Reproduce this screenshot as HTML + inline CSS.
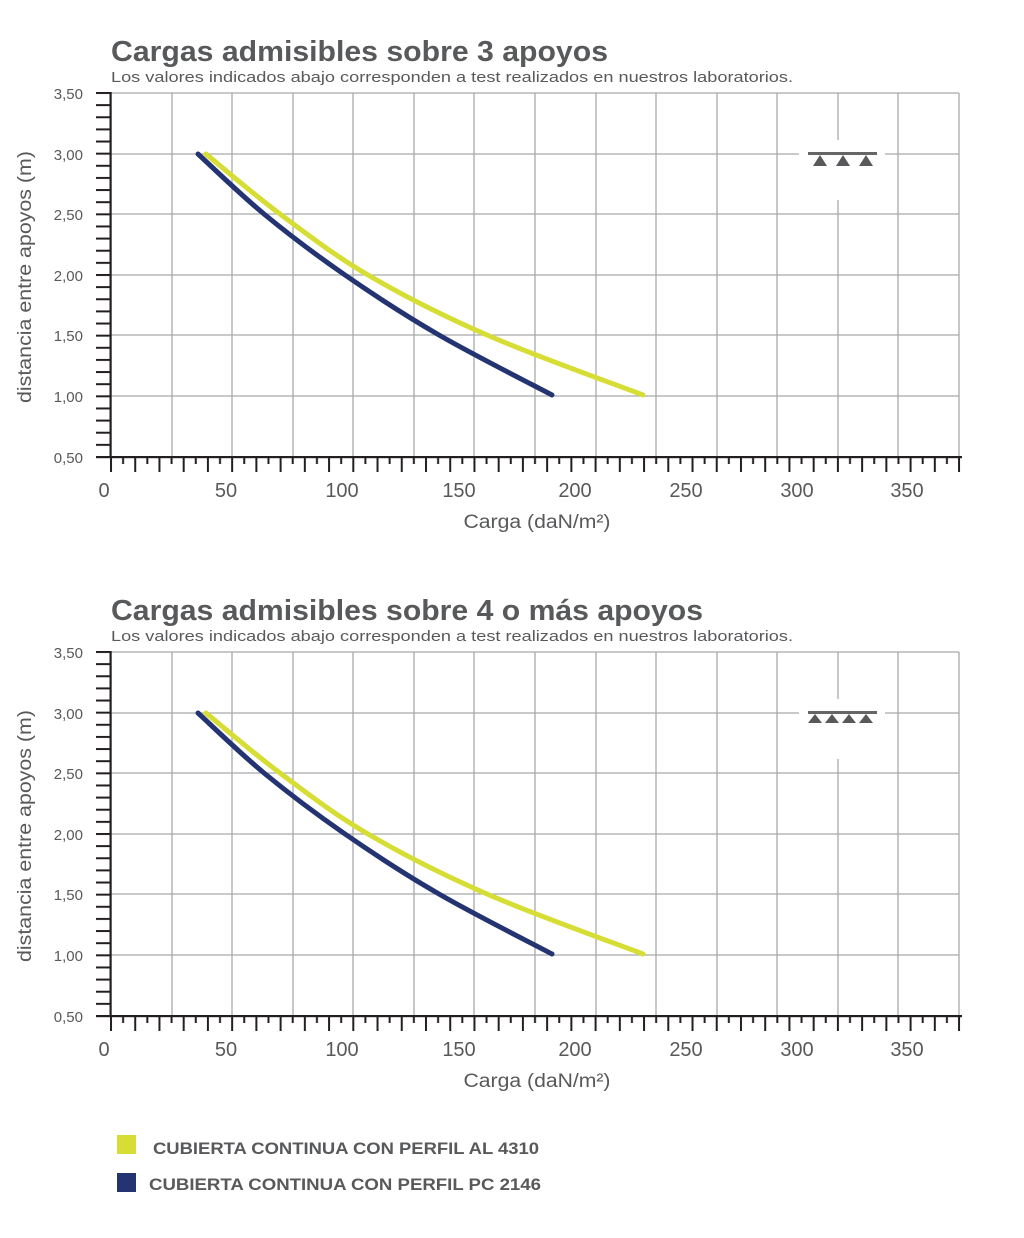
<!DOCTYPE html>
<html><head><meta charset="utf-8"><style>
body{margin:0;background:#fff;}
svg text{font-family:"Liberation Sans",sans-serif;}
</style></head><body>
<svg width="1024" height="1233" viewBox="0 0 1024 1233" xmlns="http://www.w3.org/2000/svg">
<defs>
<pattern id="yt" x="96" y="92" width="16" height="12.133" patternUnits="userSpaceOnUse"><rect x="0" y="0" width="16" height="2" fill="#231f20"/></pattern>
<pattern id="xt" x="110" y="457" width="24.23" height="20" patternUnits="userSpaceOnUse"><rect x="0" y="0" width="2" height="15" fill="#231f20"/><rect x="12.1" y="0" width="2" height="7" fill="#231f20"/></pattern>
<g id="chart">
<g stroke="#a7a9ac" stroke-width="1.3">
<line x1="111" y1="93" x2="959" y2="93"/><line x1="111" y1="154" x2="959" y2="154"/><line x1="111" y1="214" x2="959" y2="214"/><line x1="111" y1="275" x2="959" y2="275"/><line x1="111" y1="335" x2="959" y2="335"/><line x1="111" y1="396" x2="959" y2="396"/>
<line x1="172" y1="93" x2="172" y2="457"/><line x1="232" y1="93" x2="232" y2="457"/><line x1="293" y1="93" x2="293" y2="457"/><line x1="353" y1="93" x2="353" y2="457"/><line x1="414" y1="93" x2="414" y2="457"/><line x1="474" y1="93" x2="474" y2="457"/><line x1="535" y1="93" x2="535" y2="457"/><line x1="596" y1="93" x2="596" y2="457"/><line x1="656" y1="93" x2="656" y2="457"/><line x1="717" y1="93" x2="717" y2="457"/><line x1="777" y1="93" x2="777" y2="457"/><line x1="838" y1="93" x2="838" y2="457"/><line x1="898" y1="93" x2="898" y2="457"/><line x1="959" y1="93" x2="959" y2="457"/>
</g>
<rect x="799" y="140" width="86" height="60" fill="#fff"/>
<rect x="96" y="92" width="15" height="366" fill="url(#yt)"/>
<rect x="110" y="457" width="852" height="16" fill="url(#xt)"/>
<rect x="96" y="456" width="866" height="2.2" fill="#231f20"/>
<rect x="109.5" y="92" width="2.2" height="366" fill="#231f20"/>
<g font-size="15" fill="#58595b" text-anchor="end">
<text x="83" y="99">3,50</text><text x="83" y="160">3,00</text><text x="83" y="220">2,50</text><text x="83" y="281">2,00</text><text x="83" y="341">1,50</text><text x="83" y="402">1,00</text><text x="83" y="463">0,50</text>
</g>
<g font-size="20" fill="#58595b" text-anchor="middle">
<text x="104" y="497">0</text><text x="226" y="497">50</text><text x="342" y="497">100</text><text x="459" y="497">150</text><text x="575" y="497">200</text><text x="686" y="497">250</text><text x="797" y="497">300</text><text x="907" y="497">350</text>
</g>
<text x="537" y="528" font-size="19" fill="#58595b" text-anchor="middle" textLength="147" lengthAdjust="spacingAndGlyphs">Carga (daN/m²)</text>
<text transform="translate(31,277) rotate(-90)" font-size="19" fill="#58595b" text-anchor="middle" textLength="252" lengthAdjust="spacingAndGlyphs">distancia entre apoyos (m)</text>
<path d="M206,154 C218.3,164 253,193.8 280,214 C307,234.2 333.5,254.8 368,275 C402.5,295.2 441.2,315 487,335 C532.8,355 617,385 643,395" fill="none" stroke="#d6de36" stroke-width="5" stroke-linecap="round"/>
<path d="M198,154 C209,164 239.5,193.8 264,214 C288.5,234.2 315.8,254.8 345,275 C374.2,295.2 404.5,315 439,335 C473.5,355 533.2,385 552,395" fill="none" stroke="#243372" stroke-width="5" stroke-linecap="round"/>
</g>
</defs>
<text x="111" y="61" font-size="29" font-weight="bold" fill="#58595b" textLength="497" lengthAdjust="spacingAndGlyphs">Cargas admisibles sobre 3 apoyos</text>
<text x="111" y="82" font-size="15" fill="#58595b" textLength="682" lengthAdjust="spacingAndGlyphs">Los valores indicados abajo corresponden a test realizados en nuestros laboratorios.</text>
<use href="#chart"/>
<rect x="808" y="152" width="69" height="3" fill="#666"/>
<g fill="#58595b"><polygon points="813,166 820,155 827,166"/><polygon points="836,166 843,155 850,166"/><polygon points="859,166 866,155 873,166"/></g>
<text x="111" y="620" font-size="29" font-weight="bold" fill="#58595b" textLength="592" lengthAdjust="spacingAndGlyphs">Cargas admisibles sobre 4 o más apoyos</text>
<text x="111" y="641" font-size="15" fill="#58595b" textLength="682" lengthAdjust="spacingAndGlyphs">Los valores indicados abajo corresponden a test realizados en nuestros laboratorios.</text>
<use href="#chart" transform="translate(0,559)"/>
<rect x="808" y="711" width="69" height="3" fill="#666"/>
<g fill="#58595b"><polygon points="808,723 815,714 822,723"/><polygon points="825,723 832,714 839,723"/><polygon points="842,723 849,714 856,723"/><polygon points="859,723 866,714 873,723"/></g>
<rect x="117" y="1135" width="19" height="19" fill="#d6de36"/>
<rect x="117" y="1173" width="19" height="19" fill="#243372"/>
<text x="153" y="1154" font-size="17" font-weight="bold" fill="#58595b" textLength="386" lengthAdjust="spacingAndGlyphs">CUBIERTA CONTINUA CON PERFIL AL 4310</text>
<text x="149" y="1190" font-size="17" font-weight="bold" fill="#58595b" textLength="392" lengthAdjust="spacingAndGlyphs">CUBIERTA CONTINUA  CON PERFIL PC 2146</text>
</svg>
</body></html>
